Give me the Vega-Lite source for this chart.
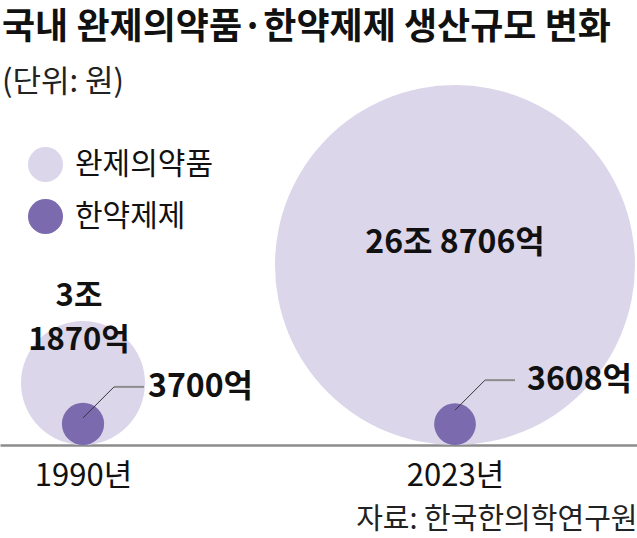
{
  "$schema": "https://vega.github.io/schema/vega-lite/v6.json",
  "width": 637,
  "height": 345,
  "autosize": {"type": "none"},
  "padding": {"top": 100, "left": 0, "right": 0, "bottom": 93},
  "background": "white",
  "config": {"view": {"stroke": null}, "font": "Noto Sans CJK KR"},
  "title": {
    "text": "국내 완제의약품·한약제제 생산규모 변화",
    "subtitle": "(단위: 원)",
    "anchor": "start",
    "frame": "group",
    "dx": 2,
    "font": "Noto Sans CJK KR",
    "fontSize": 36,
    "fontWeight": "bold",
    "color": "#111111",
    "subtitleFont": "Noto Sans CJK KR",
    "subtitleFontSize": 31,
    "subtitleColor": "#222222",
    "subtitlePadding": 21,
    "offset": -14
  },
  "data": {
    "values": [
      {"year": 1990, "type": "완제의약품", "value": 31870, "label": "3조\n1870억"},
      {"year": 2023, "type": "완제의약품", "value": 268706, "label": "26조 8706억"},
      {"year": 1990, "type": "한약제제", "value": 3700, "label": "3700억"},
      {"year": 2023, "type": "한약제제", "value": 3608, "label": "3608억"}
    ]
  },
  "encoding": {
    "x": {
      "field": "year",
      "type": "quantitative",
      "scale": {"domain": [1982.637, 2039.145], "nice": false, "zero": false},
      "axis": {
        "values": [1990, 2023],
        "labelExpr": "datum.value + '년'",
        "labelFont": "Noto Sans CJK KR",
        "labelFontSize": 31,
        "labelColor": "#111111",
        "labelPadding": 16,
        "ticks": false,
        "grid": false,
        "domain": true,
        "domainColor": "#8c8c8c",
        "domainWidth": 2.5,
        "title": "자료: 한국한의학연구원",
        "titleFont": "Noto Sans CJK KR",
        "titleFontSize": 29,
        "titleFontWeight": "normal",
        "titleColor": "#222222",
        "titleAnchor": "end",
        "titlePadding": 14
      }
    },
    "y": {
      "field": "value",
      "type": "quantitative",
      "scale": {"type": "sqrt", "domain": [0, 268706], "range": [345, 165], "nice": false, "zero": true},
      "axis": null
    }
  },
  "layer": [
    {
      "mark": {"type": "point", "filled": true, "opacity": 1, "shape": "circle", "strokeWidth": 0},
      "encoding": {
        "color": {
          "field": "type",
          "type": "nominal",
          "scale": {"domain": ["완제의약품", "한약제제"], "range": ["#dcd6ea", "#7b6aae"]},
          "legend": {
            "title": null,
            "orient": "none",
            "legendX": 28,
            "legendY": 47,
            "symbolType": "circle",
            "symbolSize": 1225,
            "symbolStrokeWidth": 0,
            "symbolOpacity": 1,
            "labelFont": "Noto Sans CJK KR",
            "labelFontSize": 30,
            "labelColor": "#111111",
            "labelOffset": 12,
            "rowPadding": 17,
            "padding": 0
          }
        },
        "size": {
          "field": "value",
          "type": "quantitative",
          "scale": {"domain": [0, 268706], "range": [0, 129600], "zero": true},
          "legend": null
        }
      }
    },
    {
      "transform": [{"filter": "datum.type === '한약제제' && datum.year === 1990"}],
      "mark": {"type": "rule", "color": "#333333", "strokeWidth": 1, "yOffset": -6, "x2Offset": 31, "y2Offset": -37},
      "encoding": {"x2": {"field": "year"}, "y2": {"field": "value"}}
    },
    {
      "transform": [{"filter": "datum.type === '한약제제' && datum.year === 1990"}],
      "mark": {"type": "rule", "color": "#8c8c8c", "strokeWidth": 2, "xOffset": 31, "x2Offset": 61, "yOffset": -37},
      "encoding": {"x2": {"field": "year"}}
    },
    {
      "transform": [{"filter": "datum.type === '한약제제' && datum.year === 2023"}],
      "mark": {"type": "rule", "color": "#333333", "strokeWidth": 1, "yOffset": -14, "x2Offset": 30, "y2Offset": -44},
      "encoding": {"x2": {"field": "year"}, "y2": {"field": "value"}}
    },
    {
      "transform": [{"filter": "datum.type === '한약제제' && datum.year === 2023"}],
      "mark": {"type": "rule", "color": "#8c8c8c", "strokeWidth": 2, "xOffset": 30, "x2Offset": 60, "yOffset": -44},
      "encoding": {"x2": {"field": "year"}}
    },
    {
      "transform": [{"filter": "datum.type === '완제의약품' && datum.year === 2023"}],
      "mark": {"type": "text", "font": "Noto Sans CJK KR", "fontWeight": "bold", "fontSize": 32, "color": "#111111", "align": "center", "baseline": "middle", "dy": -22},
      "encoding": {"text": {"field": "label"}}
    },
    {
      "transform": [{"filter": "datum.type === '완제의약품' && datum.year === 1990"}],
      "mark": {"type": "text", "font": "Noto Sans CJK KR", "fontWeight": "bold", "fontSize": 31, "color": "#111111", "align": "center", "baseline": "middle", "dx": -4, "dy": -86, "lineBreak": "\n", "lineHeight": 44},
      "encoding": {"text": {"field": "label"}}
    },
    {
      "transform": [{"filter": "datum.type === '한약제제' && datum.year === 1990"}],
      "mark": {"type": "text", "font": "Noto Sans CJK KR", "fontWeight": "bold", "fontSize": 32, "color": "#111111", "align": "left", "baseline": "middle", "dx": 65, "dy": -37},
      "encoding": {"text": {"field": "label"}}
    },
    {
      "transform": [{"filter": "datum.type === '한약제제' && datum.year === 2023"}],
      "mark": {"type": "text", "font": "Noto Sans CJK KR", "fontWeight": "bold", "fontSize": 32, "color": "#111111", "align": "left", "baseline": "middle", "dx": 72, "dy": -44},
      "encoding": {"text": {"field": "label"}}
    }
  ]
}
